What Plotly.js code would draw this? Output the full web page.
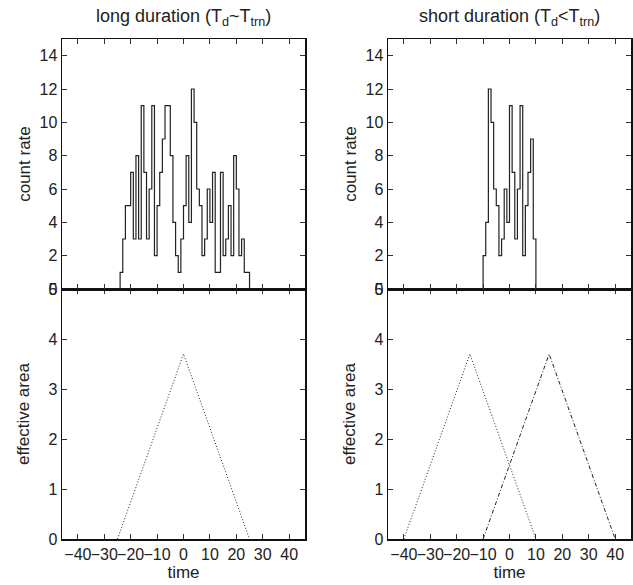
<!DOCTYPE html>
<html>
<head>
<meta charset="utf-8">
<script src="https://cdn.plot.ly/plotly-3.0.1.min.js"></script>
<style>html,body{margin:0;padding:0;background:#fff;}#chart{width:633px;height:585px;}</style>
</head>
<body>
<div id="chart"></div>
<script>
// ---- data ----
const binWidth = 1;
const longStart = -24;
const longCounts = [1,3,5,5,7,3,8,3,11,7,3,6,11,2,5,7,9,11,11,8,4,2,1,3,5,8,4,12,10,6,5,2,3,6,4,7,1,1,7,2,3,5,2,8,6,2,3,1,1];
const shortStart = -10;
const shortCounts = [2,4,12,10,6,5,2,3,6,4,11,7,3,6,11,2,5,7,9,3];

const longAreaT = [-25, 0, 25];
const longAreaA = [0, 3.7, 0];
const shortAreaT1 = [-40, -15, 10];
const shortAreaA1 = [0, 3.7, 0];
const shortAreaT2 = [-10, 15, 40];
const shortAreaA2 = [0, 3.7, 0];

const titles = ['long duration (T<sub>d</sub>~T<sub>trn</sub>)', 'short duration (T<sub>d</sub>&lt;T<sub>trn</sub>)'];
const xTitle = 'time';
const yTitleTop = 'count rate';
const yTitleBottom = 'effective area';

// ---- build step outlines ----
function steps(start, counts) {
  const x = [start], y = [0];
  counts.forEach((c, i) => { x.push(start + i * binWidth); y.push(c); });
  x.push(start + counts.length * binWidth); y.push(0);
  return {x, y};
}
const sL = steps(longStart, longCounts);
const sS = steps(shortStart, shortCounts);

const FONT = 'Liberation Sans, Arial, Helvetica, sans-serif';
const histLine = {color: '#222', width: 1.2, shape: 'hv'};

const traces = [
  {x: sL.x, y: sL.y, xaxis: 'x2', yaxis: 'y2', mode: 'lines', line: histLine, hoverinfo: 'skip'},
  {x: sS.x, y: sS.y, xaxis: 'x4', yaxis: 'y4', mode: 'lines', line: histLine, hoverinfo: 'skip'},
  {x: longAreaT, y: longAreaA, xaxis: 'x', yaxis: 'y', mode: 'lines', line: {color: '#222', width: 1, dash: '1px,2px'}},
  {x: shortAreaT1, y: shortAreaA1, xaxis: 'x3', yaxis: 'y3', mode: 'lines', line: {color: '#222', width: 1, dash: '1px,2px'}},
  {x: shortAreaT2, y: shortAreaA2, xaxis: 'x3', yaxis: 'y3', mode: 'lines', line: {color: '#222', width: 1, dash: '4px,2px,1px,2px'}}
];

const W = 633, H = 585;
const xdomL = [62 / W, 305 / W];
const xdomR = [388 / W, 631 / W];
const ydomB = [1 - 539 / H, 1 - 289 / H];
const ydomT = [1 - 289 / H, 1 - 39 / H];

function xax(domain, anchor, labels) {
  const a = {
    domain, anchor, range: [-46, 46], tick0: 0, dtick: 10, tickmode: 'linear',
    ticks: 'inside', ticklen: 5, tickwidth: 1, tickcolor: '#333',
    showline: true, linecolor: '#111', linewidth: 1.5, mirror: 'ticks',
    showgrid: false, zeroline: false, showticklabels: labels, tickangle: 0,
    tickfont: {family: FONT, size: 16, color: '#222'}
  };
  if (labels) a.title = {text: xTitle, font: {family: FONT, size: 17, color: '#222'}, standoff: 4};
  return a;
}
function yax(domain, anchor, range, dtick, title, standoff) {
  return {
    domain, anchor, range, tick0: 0, dtick, tickmode: 'linear',
    ticks: 'inside', ticklen: 5, tickwidth: 1, tickcolor: '#333',
    showline: true, linecolor: '#111', linewidth: 1.5, mirror: 'ticks',
    showgrid: false, zeroline: false,
    tickfont: {family: FONT, size: 16, color: '#222'},
    title: {text: title, font: {family: FONT, size: 17, color: '#222'}, standoff}
  };
}

const layout = {
  width: W, height: H,
  margin: {l: 0, r: 0, t: 0, b: 0},
  paper_bgcolor: '#fff', plot_bgcolor: '#fff',
  showlegend: false,
  font: {family: FONT, color: '#222'},
  xaxis: xax(xdomL, 'y', true),
  yaxis: yax(ydomB, 'x', [0, 5], 1, yTitleBottom, 14),
  xaxis2: xax(xdomL, 'y2', false),
  yaxis2: yax(ydomT, 'x2', [0, 15], 2, yTitleTop, 4),
  xaxis3: xax(xdomR, 'y3', true),
  yaxis3: yax(ydomB, 'x3', [0, 5], 1, yTitleBottom, 14),
  xaxis4: xax(xdomR, 'y4', false),
  yaxis4: yax(ydomT, 'x4', [0, 15], 2, yTitleTop, 4),
  annotations: [
    {text: titles[0], xref: 'paper', yref: 'paper', x: (xdomL[0] + xdomL[1]) / 2, y: 1 - 17 / H,
     xanchor: 'center', yanchor: 'middle', showarrow: false, font: {family: FONT, size: 18, color: '#222'}},
    {text: titles[1], xref: 'paper', yref: 'paper', x: (xdomR[0] + xdomR[1]) / 2, y: 1 - 17 / H,
     xanchor: 'center', yanchor: 'middle', showarrow: false, font: {family: FONT, size: 18, color: '#222'}}
  ]
};

Plotly.newPlot('chart', traces, layout, {staticPlot: true, displayModeBar: false});
</script>
</body>
</html>
